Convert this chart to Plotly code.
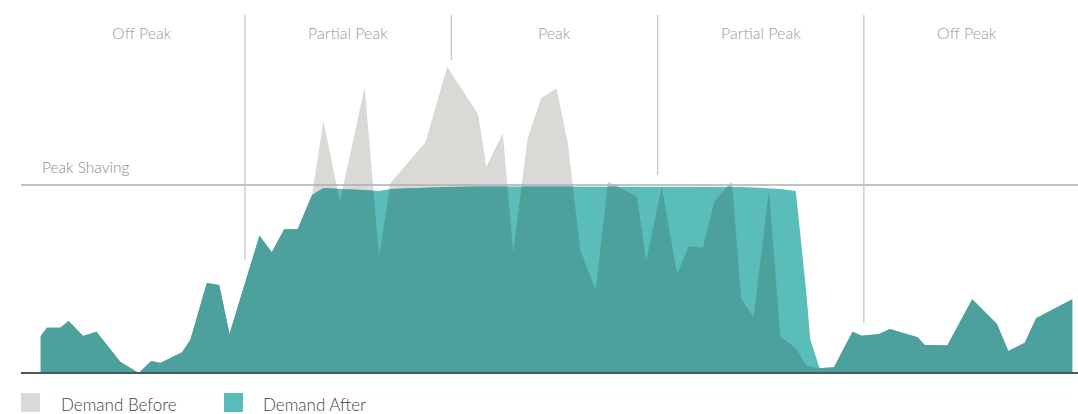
import plotly.graph_objects as go

# ---- data (x: position along the day 0-100, y: demand, peak-shaving limit = 100) ----
time_pos = [0.2, 0.8, 2.1, 2.9, 4.3, 5.6, 7.9, 9.7, 10.9, 11.8, 13.9, 14.7, 16.3, 17.5,
            18.5, 21.4, 22.6, 23.8, 25.1, 26.5, 27.6, 29.2, 31.6, 33.0, 34.1, 37.5, 39.6,
            42.6, 43.4, 45.0, 46.0, 47.4, 48.7, 50.2, 51.3, 52.5, 54.0, 55.2, 58.0, 58.9,
            60.4, 61.9, 63.0, 64.4, 65.5, 67.2, 68.1, 69.3, 70.8, 71.9, 73.4, 74.4, 74.8,
            75.7, 77.1, 78.9, 79.8, 81.5, 82.5, 85.2, 85.9, 88.1, 90.5, 92.9, 94.0, 95.6,
            96.7, 100.2]

demand_before = [19.7, 24.1, 24.1, 27.7, 19.7, 22.0, 6.0, 0.0, 6.4, 5.3, 11.0, 17.6, 47.9,
                 46.8, 20.7, 73.0, 64.2, 76.4, 76.4, 94.7, 134.0, 91.1, 152.0, 61.9, 101.1,
                 122.7, 162.9, 137.6, 109.7, 127.5, 63.7, 124.8, 146.1, 151.4, 122.2, 65.4,
                 44.1, 101.8, 93.8, 59.6, 99.1, 52.4, 67.4, 66.8, 91.1, 102.1, 39.7, 29.5,
                 97.3, 19.4, 13.3, 3.9, 3.5, 2.5, 3.0, 22.0, 19.8, 20.7, 23.4, 19.0, 14.9,
                 14.7, 39.2, 26.1, 11.7, 16.1, 29.1, 39.2]

demand_after = [19.7, 24.1, 24.1, 27.7, 19.7, 22.0, 6.0, 0.0, 6.4, 5.3, 11.0, 17.6, 47.9,
                46.8, 20.7, 73.0, 64.2, 76.4, 76.4, 94.7, 98.4, 97.9, 97.3, 96.8, 97.9,
                98.7, 98.9, 99.2, 99.2, 99.2, 99.2, 99.2, 99.2, 99.2, 99.2, 99.2, 99.2,
                99.2, 99.2, 99.2, 99.2, 99.2, 99.2, 99.2, 99.2, 99.2, 98.9, 98.7, 98.4,
                97.9, 96.8, 43.6, 17.9, 2.5, 3.0, 22.0, 19.8, 20.7, 23.4, 19.0, 14.9,
                14.7, 39.2, 26.1, 11.7, 16.1, 29.1, 39.2]

period_labels = ["Off Peak", "Partial Peak", "Peak", "Partial Peak", "Off Peak"]
period_bounds = [0, 20, 40, 60, 80, 100]
peak_shaving_level = 100
legend_names = ["Demand Before", "Demand After"]

# ---- styling ----
C_BEFORE = "#dbd9d5"
C_AFTER = "#5bbdb9"
C_OVERLAP = "#4da19c"
C_LABEL = "#959ba5"
C_RULE = "#a9aeb8"
C_DIV = "#c3c6cd"
C_BASE = "#4b5b5c"


def overlap_curve(x, a, b):
    """Pointwise minimum of two polylines, including crossing points."""
    xs, ys = [], []
    for i in range(len(x)):
        if i > 0:
            d0 = a[i - 1] - b[i - 1]
            d1 = a[i] - b[i]
            if d0 * d1 < 0:
                t = d0 / (d0 - d1)
                xs.append(x[i - 1] + t * (x[i] - x[i - 1]))
                ys.append(a[i - 1] + t * (a[i] - a[i - 1]))
        xs.append(x[i])
        ys.append(min(a[i], b[i]))
    return xs, ys


ox, oy = overlap_curve(time_pos, demand_before, demand_after)

fig = go.Figure()
fig.add_trace(go.Scatter(x=time_pos, y=demand_before, name=legend_names[0], mode="lines",
                         line=dict(width=0, color=C_BEFORE), fill="tozeroy",
                         fillcolor=C_BEFORE, hoverinfo="skip", showlegend=False))
fig.add_trace(go.Scatter(x=time_pos, y=demand_after, name=legend_names[1], mode="lines",
                         line=dict(width=0, color=C_AFTER), fill="tozeroy",
                         fillcolor=C_AFTER, hoverinfo="skip", showlegend=False))
fig.add_trace(go.Scatter(x=ox, y=oy, name="Overlap", mode="lines",
                         line=dict(width=0, color=C_OVERLAP), fill="tozeroy",
                         fillcolor=C_OVERLAP, hoverinfo="skip", showlegend=False))

W, H = 1078, 414
X_RANGE = [-3.752, 100.757]
Y_RANGE = [-21.81, 198.40]

shapes = []
# peak shaving rule
shapes.append(dict(type="line", xref="paper", yref="y", x0=21 / W, x1=1.0,
                   y0=peak_shaving_level, y1=peak_shaving_level,
                   line=dict(color=C_RULE, width=1.6), layer="above"))
# baseline
shapes.append(dict(type="line", xref="paper", yref="y", x0=21 / W, x1=1.0, y0=0, y1=0,
                   line=dict(color=C_BASE, width=1.8), layer="above"))
# period dividers (end a little above the data)
divider_bottoms = [60.1, 166.5, 105.3, 26.6]
for xb, yb in zip(period_bounds[1:-1], divider_bottoms):
    shapes.append(dict(type="line", xref="x", yref="y", x0=xb, x1=xb, y0=yb, y1=190.4,
                       line=dict(color=C_DIV, width=1.3), layer="above"))

annotations = []
for i, lab in enumerate(period_labels):
    annotations.append(dict(x=(period_bounds[i] + period_bounds[i + 1]) / 2, y=180.9,
                            xref="x", yref="y", text=lab, showarrow=False,
                            xanchor="center", yanchor="middle",
                            font=dict(family="Lato", size=16, color=C_LABEL, weight=300)))
annotations.append(dict(x=40 / W, y=109.6, xref="paper", yref="y", text="Peak Shaving",
                        showarrow=False, xanchor="left", yanchor="middle",
                        font=dict(family="Lato", size=15.5, color="#878c95", weight=300)))

# legend (squares + labels)
leg = [(21, C_BEFORE, 59, legend_names[0]), (224, C_AFTER, 261, legend_names[1])]
for sx, col, tx, name in leg:
    shapes.append(dict(type="rect", xref="paper", yref="paper", x0=sx / W, x1=(sx + 19) / W,
                       y0=1 - 412 / H, y1=1 - 393 / H, line=dict(width=0), fillcolor=col))
    annotations.append(dict(x=tx / W, y=1 - 404.5 / H, xref="paper", yref="paper", text=name,
                            showarrow=False, xanchor="left", yanchor="middle",
                            font=dict(family="Lato", size=17, color="#3f4247", weight=300)))

fig.update_layout(
    width=W, height=H,
    margin=dict(l=0, r=0, t=0, b=0),
    paper_bgcolor="white", plot_bgcolor="white",
    xaxis=dict(range=X_RANGE, visible=False, fixedrange=True),
    yaxis=dict(range=Y_RANGE, visible=False, fixedrange=True),
    shapes=shapes, annotations=annotations,
    showlegend=False,
)

fig.write_html("out.html", config={"displayModeBar": False},
               post_script="document.body.style.margin='0px';document.body.style.overflow='hidden';")
